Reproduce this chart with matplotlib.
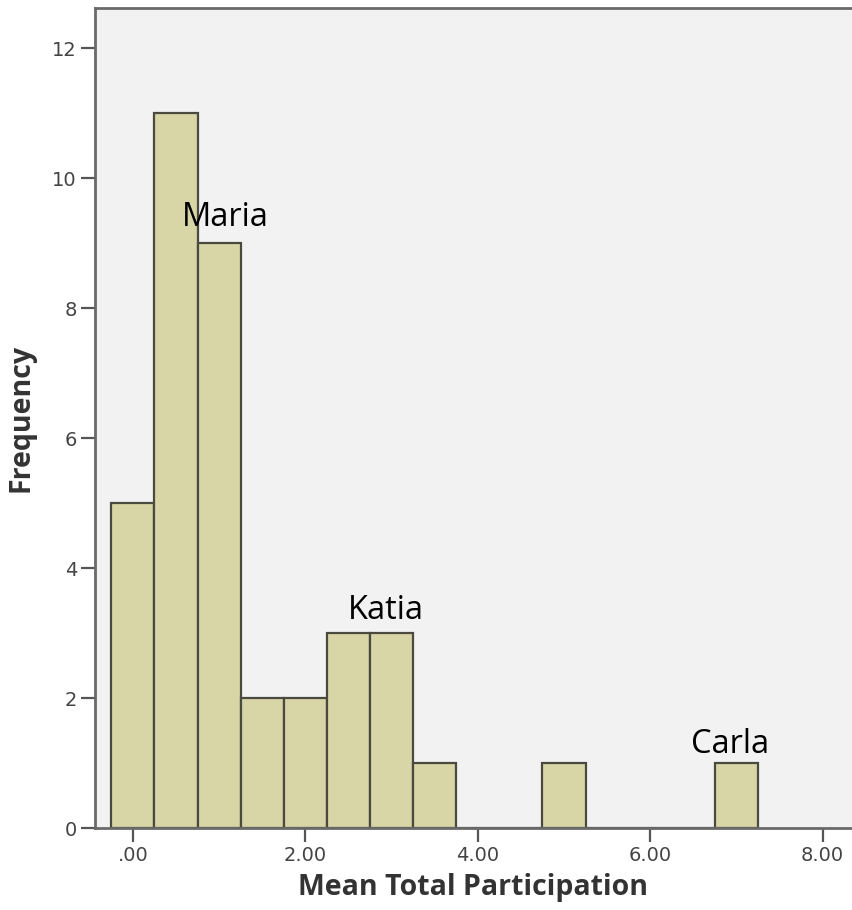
import matplotlib.pyplot as plt
import numpy as np

# histogram bins (centre of each bin) and counts
bin_centers = [0.0, 0.5, 1.0, 1.5, 2.0, 2.5, 3.0, 3.5, 4.0, 4.5, 5.0, 5.5, 6.0, 6.5, 7.0]
counts = [5, 11, 9, 2, 2, 3, 3, 1, 0, 0, 1, 0, 0, 0, 1]
bin_width = 0.5

x_ticks = [0, 2, 4, 6, 8]
x_tick_labels = ['.00', '2.00', '4.00', '6.00', '8.00']
y_ticks = [0, 2, 4, 6, 8, 10, 12]

names = ['Maria', 'Katia', 'Carla']
name_x = [1.07, 2.93, 6.93]
name_y = [9.4, 3.35, 1.28]

fig = plt.figure(figsize=(8.52, 9.10), dpi=100)
ax = fig.add_axes([95 / 852, 82 / 910, 757 / 852, 820 / 910])
ax.set_facecolor('#f2f2f2')

ax.bar(bin_centers, counts, width=bin_width, color='#d8d5a6',
       edgecolor='#4a4a40', linewidth=1.6, zorder=2)

for n, xx, yy in zip(names, name_x, name_y):
    ax.text(xx, yy, n, ha='center', va='center', fontsize=23.5,
            family='Open Sans', color='black', zorder=3)

ax.set_xlim(-0.44, 8.34)
ax.set_ylim(0, 12.62)
ax.set_xticks(x_ticks)
ax.set_xticklabels(x_tick_labels)
ax.set_yticks(y_ticks)

for s in ['left', 'top', 'bottom']:
    ax.spines[s].set_color('#6a6a6a')
    ax.spines[s].set_linewidth(2)
ax.spines['right'].set_visible(False)

ax.tick_params(axis='both', direction='out', length=10, width=1.6,
               color='#555555', labelsize=14, labelcolor='#444444', pad=3)

ax.set_xlabel('Mean Total Participation', fontsize=20.5, fontweight='bold',
              color='#333333', family='Open Sans', labelpad=6)
ax.set_ylabel('Frequency', fontsize=20.5, fontweight='bold',
              color='#333333', family='Open Sans', labelpad=12)

fig.savefig('out.png', dpi=100)
